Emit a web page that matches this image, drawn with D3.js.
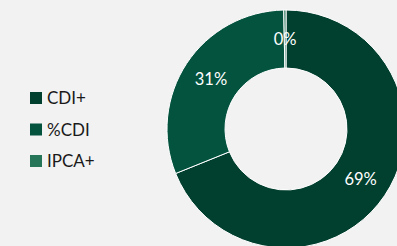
<!DOCTYPE html>
<html><head><meta charset="utf-8">
<script src="https://cdn.jsdelivr.net/npm/d3@7/dist/d3.min.js"></script>
<style>html,body{margin:0;padding:0;background:#f2f2f2;overflow:hidden}</style>
</head><body>
<svg id="c" width="397" height="246"></svg>
<script>
const categories = ["CDI+", "%CDI", "IPCA+"];
const values = [68.9, 30.8, 0.3];
const labels = ["69%", "31%", "0%"];
const colors = ["#013f2f", "#04533f", "#267559"];

const svg = d3.select("#c");
svg.append("rect").attr("width", 397).attr("height", 246).attr("fill", "#f2f2f2");

const cx = 286, cy = 129, rOuter = 119, rInner = 61;
const pie = d3.pie().sort(null).value(d => d)(values);
const arc = d3.arc().innerRadius(rInner).outerRadius(rOuter);
const g = svg.append("g").attr("transform", `translate(${cx},${cy})`);
g.selectAll("path").data(pie).join("path")
  .attr("d", arc).attr("fill", (d, i) => colors[i])
  .attr("stroke", "#ffffff").attr("stroke-width", 1);
const mid = d3.arc().innerRadius((rInner + rOuter) / 2).outerRadius((rInner + rOuter) / 2);
g.selectAll("text").data(pie).join("text")
  .attr("transform", d => `translate(${mid.centroid(d)})`)
  .attr("text-anchor", "middle").attr("dy", "0.36em")
  .attr("fill", "#ffffff").attr("font-family", "Lato, 'Open Sans', sans-serif")
  .attr("font-size", 16.5)
  .text((d, i) => labels[i]);

const leg = svg.append("g");
const ly = d3.scalePoint().domain(categories).range([98, 161]);
categories.forEach((c, i) => {
  leg.append("rect").attr("x", 30).attr("y", ly(c) - 6).attr("width", 12).attr("height", 12).attr("fill", colors[i]);
  leg.append("text").attr("x", 47).attr("y", ly(c) + 6)
    .attr("font-family", "Lato, 'Open Sans', sans-serif").attr("font-size", 17)
    .attr("fill", "#1a1a1a").text(c);
});
</script>
</body></html>
